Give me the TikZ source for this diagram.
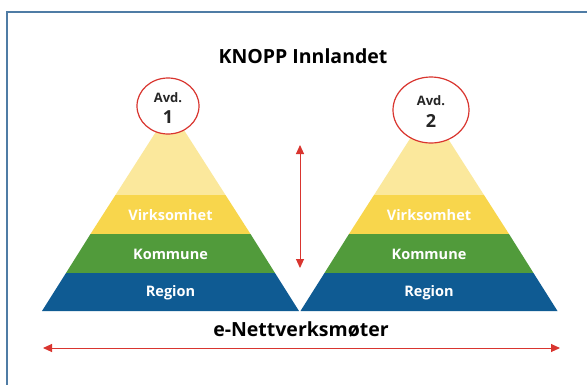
\documentclass[tikz,border=0pt]{standalone}
\usepackage{fontspec}
\setmainfont{Open Sans}
\usetikzlibrary{arrows.meta}
\definecolor{frameblue}{HTML}{4F7CA5}
\definecolor{lyellow}{HTML}{FBE89C}
\definecolor{myellow}{HTML}{F8D64C}
\definecolor{mgreen}{HTML}{519B3B}
\definecolor{mblue}{HTML}{0F5B93}
\definecolor{mred}{HTML}{D9352F}
\tikzset{
  lbl/.style={text=white, font=\fontsize{14.5}{16}\selectfont\bfseries, inner sep=0pt},
  avdtxt/.style={inner sep=0pt, text=black!85, font=\fontsize{13}{14}\selectfont\bfseries},
  numtxt/.style={inner sep=0pt, text=black!85, font=\fontsize{18}{19}\selectfont\bfseries},
  ring/.style={draw=mred, line width=1.2pt, fill=white},
  head/.style={font=\fontsize{19.5}{22}\selectfont\bfseries, inner sep=0pt},
  redarrow/.style={draw=mred, line width=1pt, {Triangle[length=9pt,width=8pt]}-{Triangle[length=9pt,width=8pt]}},
}
\begin{document}
\begin{tikzpicture}[x=1pt,y=-1pt]
\useasboundingbox (0,0) rectangle (587,384);
\fill[white] (0,0) rectangle (587,384);
% frame
\draw[frameblue, line width=1.8pt] (7,386) -- (7,12) -- (589,12);
% pyramids
\foreach \cx/\nm in {170.5/L,429/R}{
  \fill[lyellow] (\cx,109) -- (\cx+55,195) -- (\cx-55,195) -- cycle;
  \fill[myellow] (\cx-55,195) -- (\cx+55,195) -- (\cx+80,234) -- (\cx-80,234) -- cycle;
  \fill[mgreen] (\cx-80,234) -- (\cx+80,234) -- (\cx+104.5,273) -- (\cx-104.5,273) -- cycle;
  \fill[mblue] (\cx-104.5,273) -- (\cx+104.5,273) -- (\cx+128.5,311) -- (\cx-128.5,311) -- cycle;
  \node[lbl] (virk\nm) at (\cx,215) {Virksomhet};
  \node[lbl] (komm\nm) at (\cx,254) {Kommune};
  \node[lbl] (reg\nm) at (\cx,293) {Region};
}
% circles
\draw[ring] (168,106) ellipse [x radius=31, y radius=28];
\draw[ring] (431,110) ellipse [x radius=38, y radius=33];
\node[avdtxt] (avd1) at (168,98) {Avd.};
\node[numtxt] (num1) at (168,117) {1};
\node[avdtxt] (avd2) at (431,101) {Avd.};
\node[numtxt] (num2) at (431,121) {2};
% title
\node[head] (title) at (303,56) {KNOPP Innlandet};
% arrows
\coordinate (vtop) at (300,145);
\coordinate (vbot) at (300,268);
\draw[redarrow] (vtop) -- (vbot);
\node[head] (enet) at (301,329) {e-Nettverksmøter};
\coordinate (hl) at (43,348);
\coordinate (hr) at (560,348);
\draw[redarrow] (hl) -- (hr);
\end{tikzpicture}
\end{document}
